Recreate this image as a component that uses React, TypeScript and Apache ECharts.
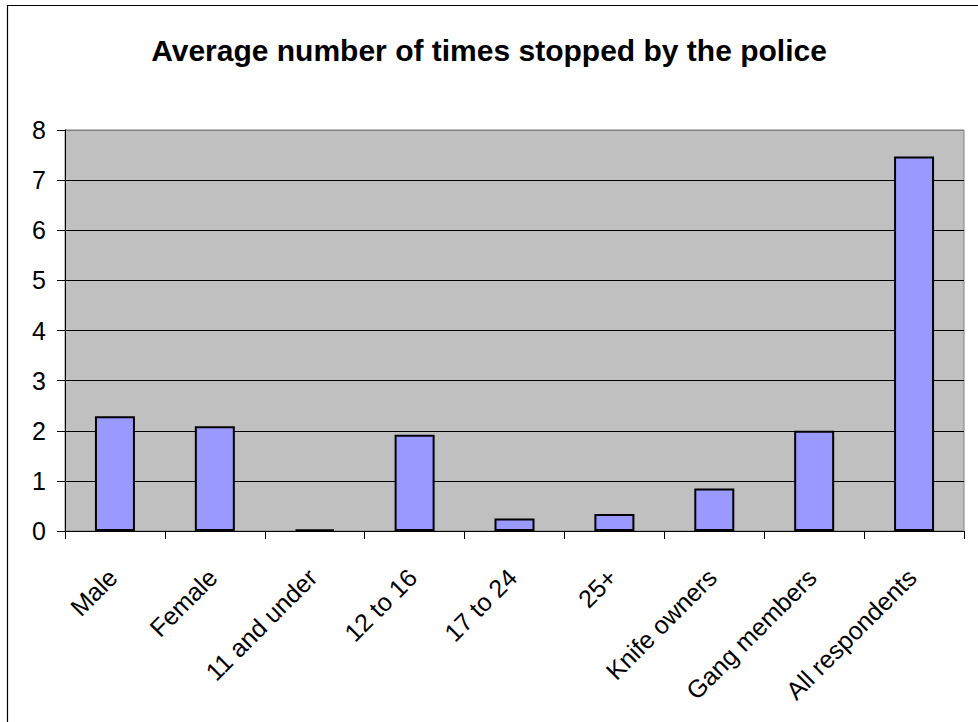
import React, { useEffect, useRef } from "react";
import * as echarts from "echarts";

const titleText = "Average number of times stopped by the police";
const categories = [
  "Male",
  "Female",
  "11 and under",
  "12 to 16",
  "17 to 24",
  "25+",
  "Knife owners",
  "Gang members",
  "All respondents",
];
const values = [2.29, 2.09, 0.03, 1.92, 0.25, 0.34, 0.85, 2.0, 7.47];
const yMin = 0;
const yMax = 8;
const yInterval = 1;

const FONT = "'Liberation Sans', Arial, Helvetica, sans-serif";

export default function App() {
  const ref = useRef<HTMLDivElement>(null);
  useEffect(() => {
    if (!ref.current) return;
    const chart = echarts.init(ref.current, null, { renderer: "svg" });
    const splitColors = [] as string[];
    for (let v = yMin; v <= yMax; v += yInterval) {
      splitColors.push(v === yMax ? "#808080" : "#000000");
    }
    chart.setOption({
      animation: false,
      backgroundColor: "#ffffff",
      title: {
        text: titleText,
        left: "center",
        top: 30,
        textStyle: {
          fontFamily: FONT,
          fontWeight: "bold",
          fontSize: 30,
          color: "#000",
        },
      },
      graphic: [
        {
          type: "rect",
          shape: { x: 7.5, y: 5.5, width: 2000, height: 2000 },
          style: { fill: "none", stroke: "#000", lineWidth: 1.2 },
          silent: true,
        },
      ],
      grid: {
        left: 65,
        top: 130,
        width: 899,
        height: 401,
        show: true,
        backgroundColor: "#C0C0C0",
        borderColor: "#808080",
        borderWidth: 1,
      },
      xAxis: {
        type: "category",
        data: categories,
        boundaryGap: true,
        axisLine: { show: true, lineStyle: { color: "#000", width: 1 } },
        axisTick: { show: true, length: 8, lineStyle: { color: "#000" } },
        axisLabel: {
          rotate: 45,
          margin: 40,
          interval: 0,
          padding: [0, 3, 6, 0],
          fontFamily: FONT,
          fontSize: 25,
          color: "#000",
        },
      },
      yAxis: {
        type: "value",
        min: yMin,
        max: yMax,
        interval: yInterval,
        axisLine: { show: true, lineStyle: { color: "#000", width: 1 } },
        axisTick: { show: true, length: 8, lineStyle: { color: "#000" } },
        axisLabel: {
          margin: 19,
          fontFamily: FONT,
          fontSize: 25,
          color: "#000",
        },
        splitLine: {
          show: true,
          lineStyle: { color: splitColors, width: 1 },
        },
      },
      series: [
        {
          type: "bar",
          data: values,
          barWidth: 40,
          itemStyle: {
            color: "#9999FF",
            borderColor: "#000",
            borderWidth: 2,
          },
        },
      ],
    });
    return () => chart.dispose();
  }, []);
  return (
    <div
      ref={ref}
      style={{ position: "absolute", left: 0, top: 0, width: 978, height: 722 }}
    />
  );
}
